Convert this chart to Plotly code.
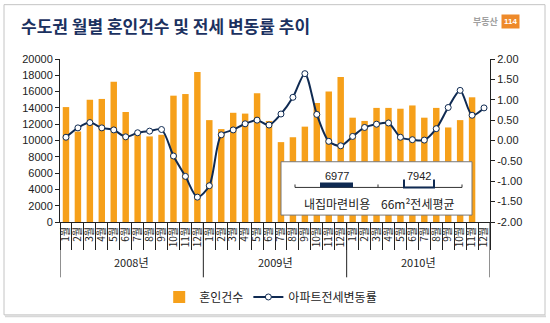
import plotly.graph_objects as go

# 2008-01 ~ 2010-12 monthly data (Seoul metropolitan area)
year_labels = ["2008년", "2009년", "2010년"]
months = [f"{m}월" for m in range(1, 13)] * 3

marriages = [
    14100, 11100, 15000, 15100, 17200, 13500, 10700, 10500, 10700, 15500, 15700, 18400,
    12500, 11400, 13400, 13300, 15800, 12400, 9800, 10400, 11700, 14600, 16000, 17800,
    12800, 12400, 14000, 14000, 13900, 14300, 12800, 14000, 11600, 12500, 15300, None,
]
jeonse_change = [
    0.08, 0.31, 0.44, 0.31, 0.26, 0.09, 0.19, 0.23, 0.27, -0.38, -0.88, -1.39,
    -1.11, 0.14, 0.26, 0.41, 0.50, 0.38, 0.65, 1.06, 1.64, 0.64, -0.02, -0.13,
    0.10, 0.32, 0.40, 0.43, 0.08, 0.02, 0.01, 0.29, 0.81, 1.23, 0.62, 0.80,
]

left_ticks = list(range(0, 20001, 2000))
right_ticks = [-2.0, -1.5, -1.0, -0.5, 0.0, 0.5, 1.0, 1.5, 2.0]

inset_values = [6977, 7942]
inset_labels = ["내집마련비용", "66m²전세평균"]

NAVY = "#0f2a52"
ORANGE = "#f6a01a"
KR = "Noto Sans CJK KR"
NUM = "Liberation Sans"

idx = list(range(len(months)))
n_per_year = 12

fig = go.Figure()
fig.add_trace(go.Bar(
    x=idx, y=marriages, name="혼인건수",
    marker=dict(color=ORANGE, line=dict(width=0)),
))
fig.add_trace(go.Scatter(
    x=idx, y=jeonse_change, name="아파트전세변동률", yaxis="y2",
    mode="lines+markers",
    line=dict(color=NAVY, width=2, shape="spline", smoothing=0.8),
    marker=dict(symbol="circle", size=6, color="white", line=dict(color=NAVY, width=1)),
))

fig.update_layout(
    width=550, height=323,
    margin=dict(l=60, r=60, t=59, b=99),
    paper_bgcolor="white", plot_bgcolor="white",
    bargap=0.46,
    font=dict(family=KR, size=11, color="#222"),
    showlegend=True,
    legend=dict(
        orientation="h", x=0.49, xanchor="center", y=-0.46, yanchor="middle",
        font=dict(family=KR, size=12, color="#222"),
        itemwidth=30, tracegroupgap=0,
    ),
    xaxis=dict(
        range=[-0.5, len(months) - 0.5],
        tickvals=idx, ticktext=months, tickangle=-90,
        tickfont=dict(family=KR, size=10, color="#222"),
        ticks="", showline=True, linecolor="#222", linewidth=1,
        minor=dict(tickvals=[i - 0.5 for i in range(len(months) + 1)],
                   ticks="outside", ticklen=27, tickcolor="#222", tickwidth=1),
        showgrid=False, zeroline=False,
    ),
    yaxis=dict(
        range=[0, 20000], tickvals=left_ticks,
        ticktext=[str(v) for v in left_ticks],
        showline=True, linecolor="#222", linewidth=1,
        ticks="outside", ticklen=4, tickcolor="#222",
        tickfont=dict(family=NUM, size=11, color="#222"),
        showgrid=False, zeroline=False,
    ),
    yaxis2=dict(
        range=[-2, 2], overlaying="y", side="right",
        tickvals=right_ticks, ticktext=[f"{v:.2f}" for v in right_ticks],
        showline=True, linecolor="#222", linewidth=1,
        ticks="outside", ticklen=4, tickcolor="#222",
        tickfont=dict(family=NUM, size=11, color="#222"),
        showgrid=False, zeroline=False,
    ),
)

# paper-coordinate helpers (plot area spans x 60..490, y 59..224 in pixels)
def px(x):
    return (x - 60) / 430.0

def py(y):
    return (224 - y) / 165.0

shapes = []
# outer frame
shapes.append(dict(type="rect", xref="paper", yref="paper",
                   x0=px(4), x1=px(545), y0=py(4), y1=py(318),
                   line=dict(color="#c4c4c4", width=1), layer="below"))
shapes.append(dict(type="line", xref="paper", yref="paper",
                   x0=px(5), x1=px(546), y0=py(319.5), y1=py(319.5),
                   line=dict(color="#d8d8d8", width=2)))
# year group dividers below the month labels
for k in range(len(year_labels) + 1):
    xb = k * n_per_year - 0.5
    shapes.append(dict(type="line", xref="x", yref="paper",
                       x0=xb, x1=xb, y0=0, y1=py(280),
                       line=dict(color="#222", width=1)))
# inset box
shapes.append(dict(type="rect", xref="paper", yref="paper",
                   x0=px(281), x1=px(472), y0=py(163), y1=py(217),
                   fillcolor="white", line=dict(color="#777", width=1), layer="above"))
# inset scale line with ticks
shapes.append(dict(type="line", xref="paper", yref="paper",
                   x0=px(295), x1=px(462), y0=py(189), y1=py(189),
                   line=dict(color="#333", width=1), layer="above"))
for tx in (295, 378, 462):
    shapes.append(dict(type="line", xref="paper", yref="paper",
                       x0=px(tx), x1=px(tx), y0=py(186), y1=py(189),
                       line=dict(color="#333", width=1), layer="above"))
# filled marker for the first inset value
shapes.append(dict(type="rect", xref="paper", yref="paper",
                   x0=px(320), x1=px(353), y0=py(189), y1=py(184),
                   fillcolor=NAVY, line=dict(width=0), layer="above"))
# bracket marker for the second inset value
shapes.append(dict(type="path", xref="paper", yref="paper",
                   path=(f"M {px(404)},{py(181)} L {px(404)},{py(189)} "
                         f"L {px(434)},{py(189)} L {px(434)},{py(181)}"),
                   line=dict(color=NAVY, width=2), layer="above"))
fig.update_layout(shapes=shapes)

ann = []
ann.append(dict(xref="paper", yref="paper", x=px(19), y=py(25), xanchor="left", yanchor="middle",
                text="<b>수도권 월별 혼인건수 및 전세 변동률 추이</b>", showarrow=False,
                font=dict(family=KR, size=17, color="#1b3160")))
ann.append(dict(xref="paper", yref="paper", x=px(501), y=py(21), xanchor="right", yanchor="middle",
                text="<b>부동산</b>", showarrow=False,
                font=dict(family=KR, size=9, color="#a0a0a0")))
ann.append(dict(xref="paper", yref="paper", x=px(510), y=py(21), xanchor="center", yanchor="middle",
                text="<b>114</b>", showarrow=False, bgcolor="#ee8a2a", borderpad=2,
                font=dict(family=NUM, size=8, color="white")))
# year group labels
for k, yl in enumerate(year_labels):
    ann.append(dict(xref="x", yref="paper", x=k * n_per_year + (n_per_year - 1) / 2, y=py(264),
                    xanchor="center", yanchor="middle", text=yl, showarrow=False,
                    font=dict(family=KR, size=11, color="#222")))
for val, cx in zip(inset_values, (337, 419)):
    ann.append(dict(xref="paper", yref="paper", x=px(cx), y=py(177), xanchor="center", yanchor="middle",
                    text=str(val), showarrow=False,
                    font=dict(family=NUM, size=11, color="#222")))
for lab, cx in zip(inset_labels, (337, 418)):
    ann.append(dict(xref="paper", yref="paper", x=px(cx), y=py(205), xanchor="center", yanchor="middle",
                    text=lab, showarrow=False,
                    font=dict(family=KR, size=12, color="#222")))
fig.update_layout(annotations=ann)

fig.write_html("out.html")
